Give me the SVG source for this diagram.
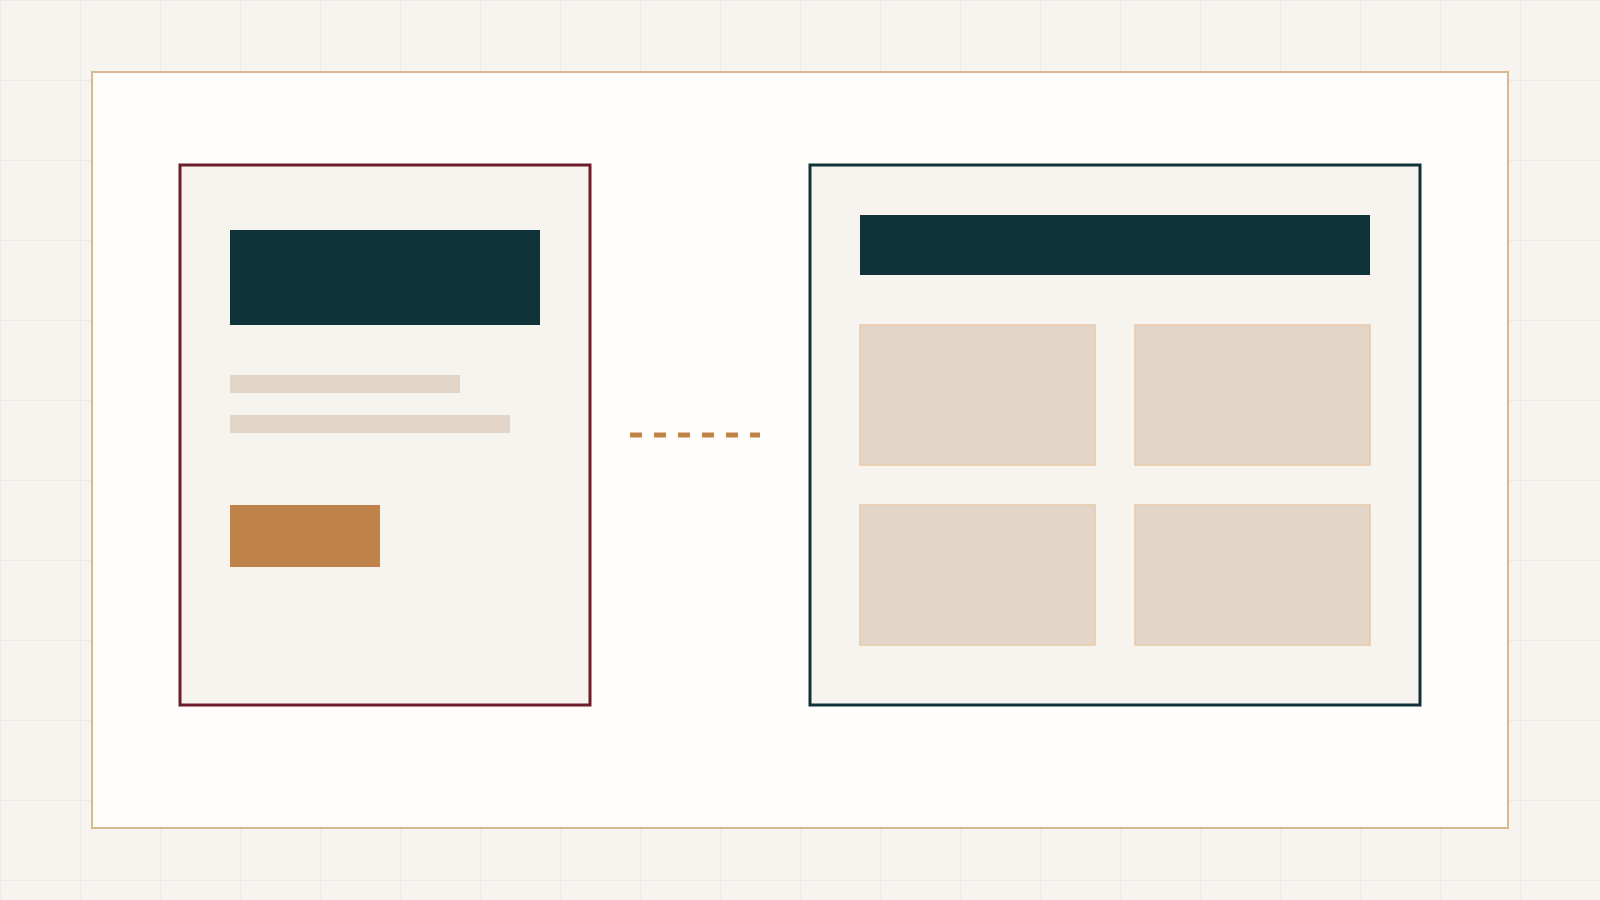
<svg xmlns="http://www.w3.org/2000/svg" width="1600" height="900" viewBox="0 0 1600 900">
  <defs>
    <pattern id="grid" x="0" y="0" width="80" height="80" patternUnits="userSpaceOnUse">
      <rect width="80" height="80" fill="#f7f4f0"/>
      <path d="M0.5 0 V80 M0 0.5 H80" stroke="#eceae6" stroke-width="1" fill="none"/>
    </pattern>
  </defs>
  <style>
    .panel { fill: #f7f4f0; stroke-width: 3; }
    .dark { fill: #0f3338; }
    .bar { fill: #e3d5c8; }
    .card { fill: #e3d5c8; stroke: #e6c8a6; stroke-width: 1.5; }
    .btn { fill: #bf8349; }
    .link { stroke: #bf8349; stroke-width: 5; stroke-dasharray: 12 12; fill: none; }
  </style>
  <rect width="1600" height="900" fill="url(#grid)"/>
  <g id="frame">
    <rect x="92" y="72" width="1416" height="756" fill="#fefdfb" stroke="#d9b892" stroke-width="2"/>
  </g>
  <g id="left-panel">
    <rect class="panel" x="180" y="165" width="410" height="540" stroke="#6b1e2a"/>
    <rect class="dark" x="230" y="230" width="310" height="95"/>
    <rect class="bar" x="230" y="375" width="230" height="18"/>
    <rect class="bar" x="230" y="415" width="280" height="18"/>
    <rect class="btn" x="230" y="505" width="150" height="62"/>
  </g>
  <g id="right-panel">
    <rect class="panel" x="810" y="165" width="610" height="540" stroke="#0f3338"/>
    <rect class="dark" x="860" y="215" width="510" height="60"/>
    <rect class="card" x="860" y="325" width="235" height="140"/>
    <rect class="card" x="1135" y="325" width="235" height="140"/>
    <rect class="card" x="860" y="505" width="235" height="140"/>
    <rect class="card" x="1135" y="505" width="235" height="140"/>
  </g>
  <g id="connectors">
    <line class="link" x1="630" y1="435" x2="760" y2="435"/>
  </g>
</svg>
